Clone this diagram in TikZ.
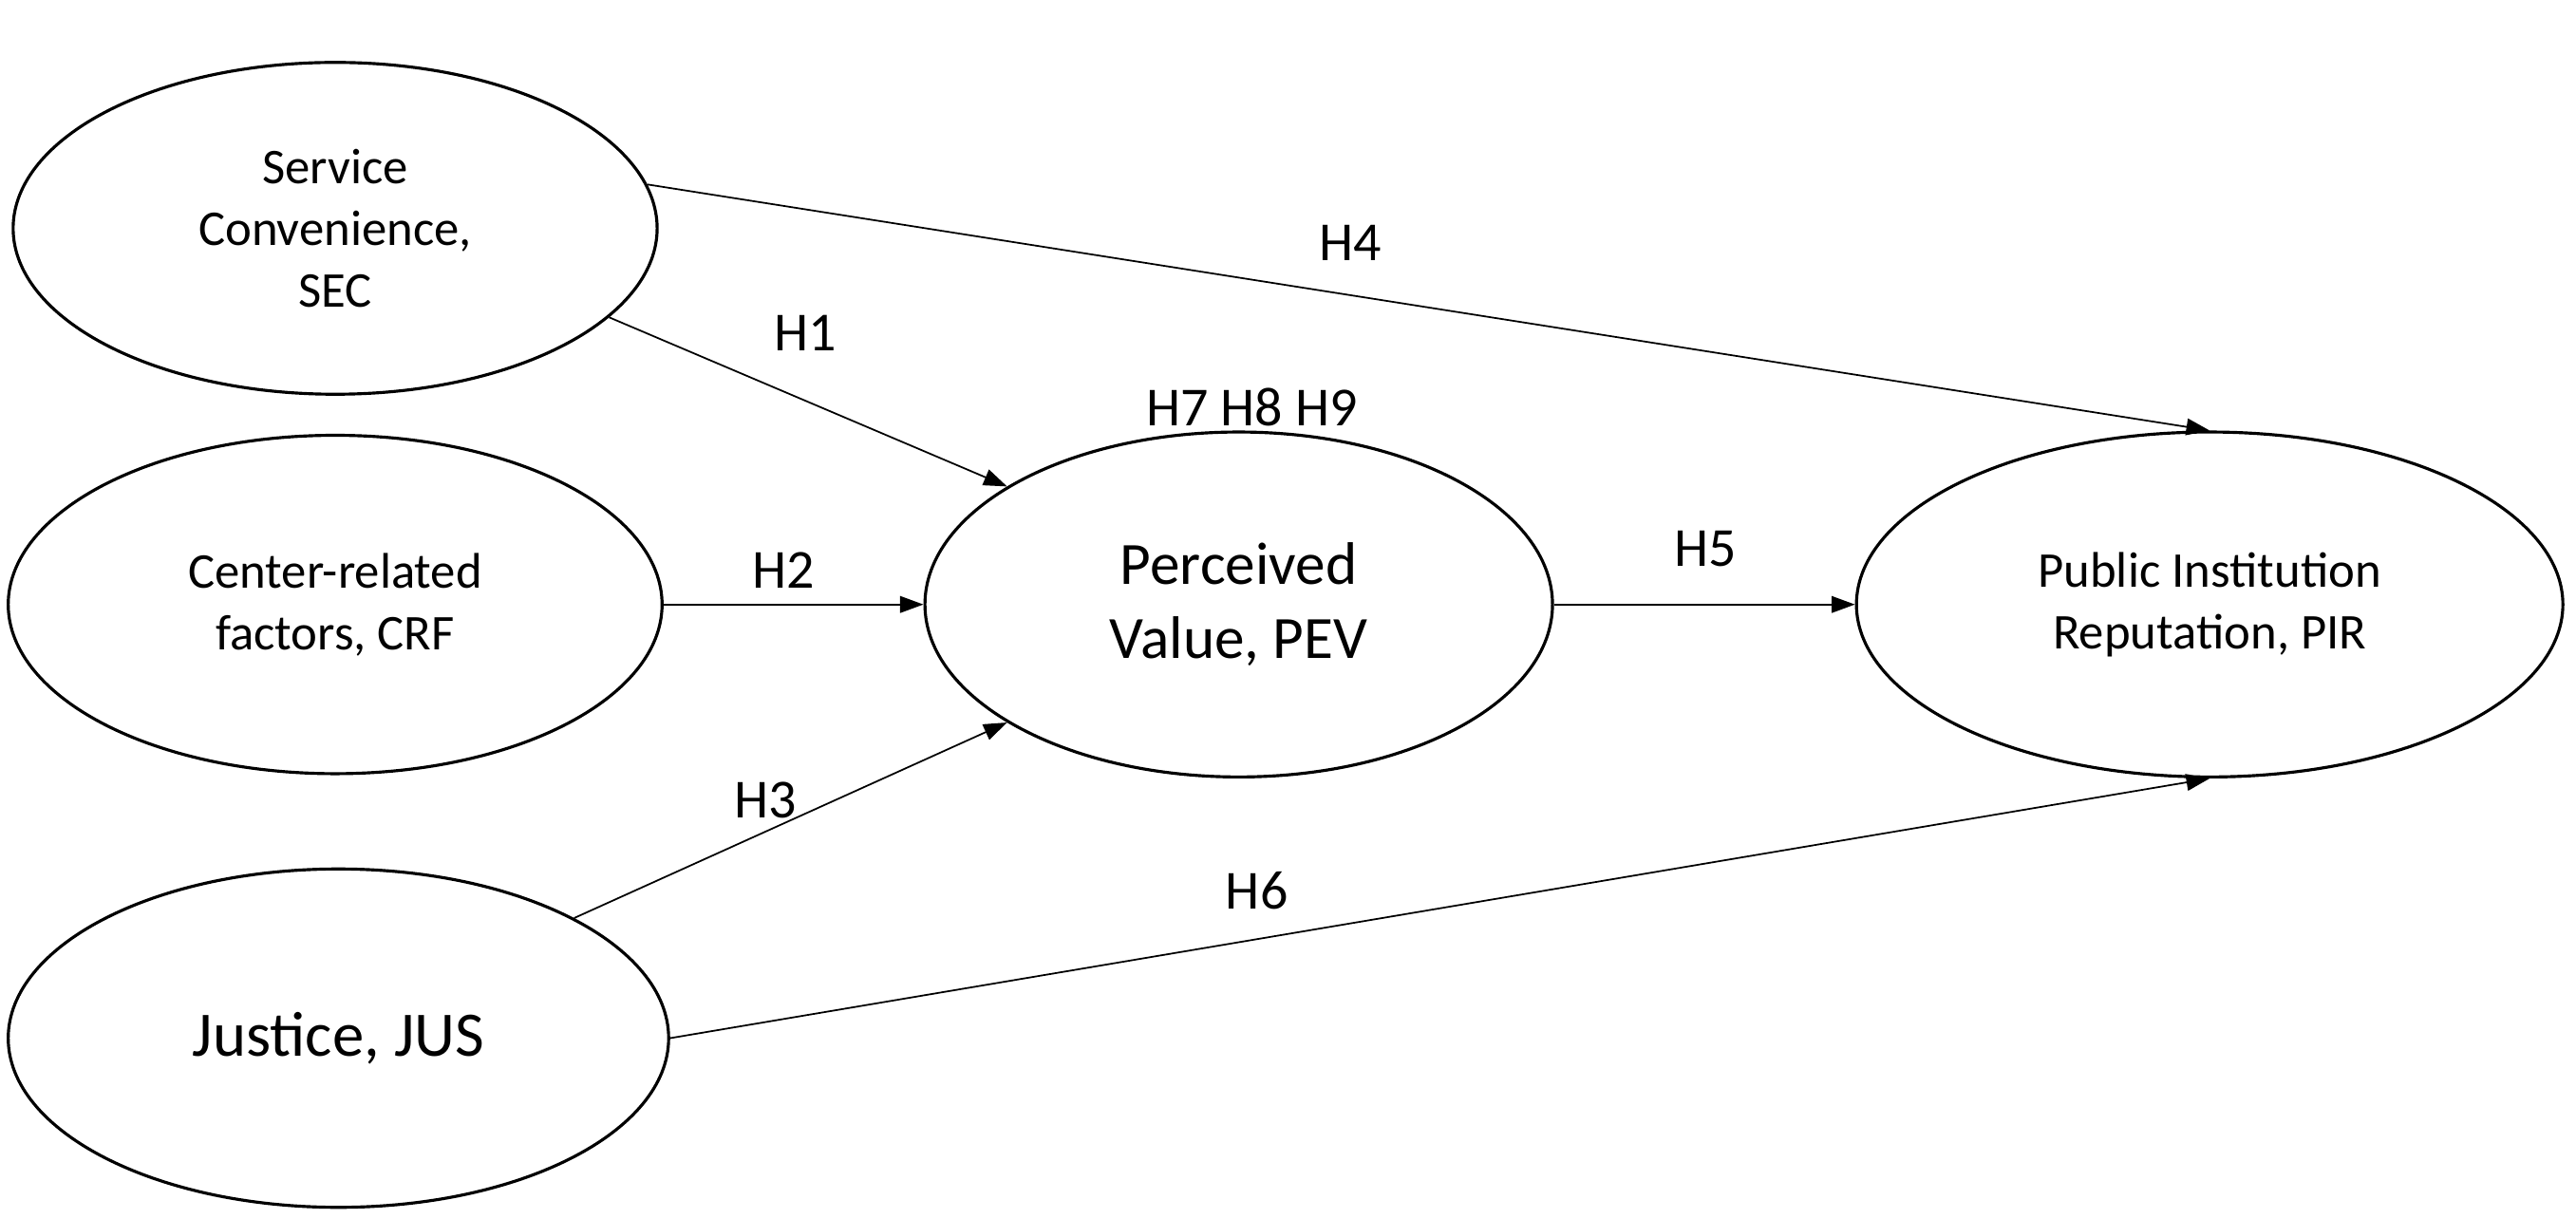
\documentclass[tikz,border=0pt]{standalone}
\usepackage{fontspec}
\setmainfont{Carlito}
\usetikzlibrary{shapes.geometric,arrows.meta}
\begin{document}
\begin{tikzpicture}[x=0.0173cm,y=-0.0173cm,
  ell/.style={ellipse,draw,line width=0.9pt,inner sep=0pt,align=center,font=\fontsize{15}{18.5}\selectfont},
  arr/.style={line width=0.5pt,-{Triangle[length=7pt,width=5pt]}},
  lab/.style={font=\fontsize{16.5}{19}\selectfont}]
\useasboundingbox (0,0) rectangle (1568,741.6);
\node[ell,minimum width=392*0.0173cm,minimum height=202*0.0173cm] (sec) at (204,139) {Service\\Convenience,\\SEC};
\node[ell,minimum width=398*0.0173cm,minimum height=206*0.0173cm] (crf) at (204,368) {Center-related\\factors, CRF};
\node[ell,minimum width=402*0.0173cm,minimum height=206*0.0173cm,font=\fontsize{19}{22}\selectfont] (jus) at (206,632) {Justice, JUS};
\node[ell,minimum width=382*0.0173cm,minimum height=210*0.0173cm,font=\fontsize{18}{22}\selectfont] (pev) at (754,368) {Perceived\\Value, PEV};
\node[ell,minimum width=430*0.0173cm,minimum height=210*0.0173cm] (pir) at (1345,368) {Public Institution\\Reputation, PIR};
\draw[arr] (sec.8) -- (pir.90);
\draw[arr] (sec.-18) -- (pev.153);
\draw[arr] (crf.0) -- (pev.180);
\draw[arr] (jus.27) -- (pev.207);
\draw[arr] (jus.0) -- (pir.270);
\draw[arr] (pev.0) -- (pir.180);
\node[lab] (h4) at (822,148) {H4};
\node[lab] (h1) at (490,203) {H1};
\node[lab] (h789) at (762,248) {H7 H8 H9};
\node[lab] (h2) at (477,347) {H2};
\node[lab] (h5) at (1038,334) {H5};
\node[lab] (h3) at (466,487) {H3};
\node[lab] (h6) at (765,542) {H6};
\end{tikzpicture}
\end{document}
